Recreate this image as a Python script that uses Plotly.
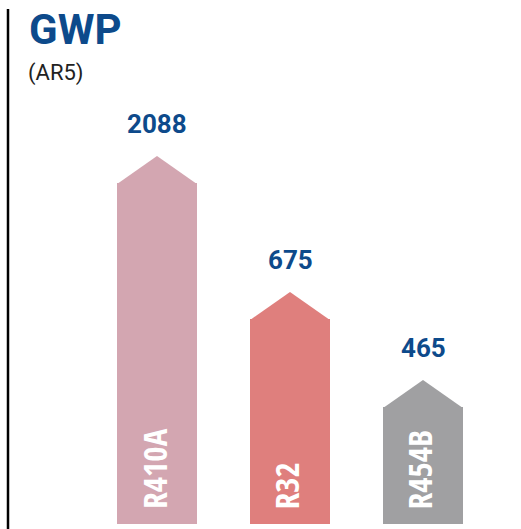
import plotly.graph_objects as go

refrigerants = ["R410A", "R32", "R454B"]
gwp_values = [2088, 675, 465]
bar_heights = [341, 205, 117]   # displayed body heights (picture units)
cap_height = 27
colors = ["#d3a6b1", "#df7f7d", "#a0a0a2"]

W, H = 521, 529
xs = list(range(len(refrigerants)))
bw = 0.6

fig = go.Figure()
fig.add_trace(go.Bar(x=xs, y=bar_heights, width=bw, marker=dict(color=colors, line=dict(width=0)),
                     hoverinfo="skip", showlegend=False))
for i, (h, c) in enumerate(zip(bar_heights, colors)):
    fig.add_trace(go.Scatter(x=[i - bw / 2, i, i + bw / 2, i - bw / 2],
                             y=[h - 1, h + cap_height, h - 1, h - 1],
                             mode="lines", fill="toself", fillcolor=c,
                             line=dict(width=0, color=c), hoverinfo="skip", showlegend=False))

annotations = []
for i, (v, h) in enumerate(zip(gwp_values, bar_heights)):
    annotations.append(dict(x=i, y=h + cap_height + 32, xref="x", yref="y", text=f"{v}",
                            showarrow=False, xanchor="center", yanchor="middle",
                            font=dict(family="Roboto", size=26, color="#0d4a8b", weight="bold")))
    annotations.append(dict(x=i - 0.025, y=13, xref="x", yref="y", text=refrigerants[i],
                            textangle=-90, showarrow=False, xanchor="center", yanchor="bottom",
                            font=dict(family="Open Sans Condensed, DejaVu Sans Condensed, Roboto",
                                      size=33, color="white", weight="bold")))

annotations.append(dict(x=27 / W, y=1 - 30 / H, xref="paper", yref="paper", text="GWP",
                        showarrow=False, xanchor="left", yanchor="middle",
                        font=dict(family="Roboto", size=42, color="#0d4a8b", weight="bold")))
annotations.append(dict(x=26 / W, y=1 - 73 / H, xref="paper", yref="paper", text="(AR5)",
                        showarrow=False, xanchor="left", yanchor="middle",
                        font=dict(family="Roboto", size=22, color="#222222")))

x0 = -157 / 133
fig.update_layout(
    width=W, height=H, margin=dict(l=0, r=0, t=0, b=0),
    paper_bgcolor="white", plot_bgcolor="white",
    xaxis=dict(range=[x0, x0 + W / 133], visible=False, fixedrange=True),
    yaxis=dict(range=[-5, 524], visible=False, fixedrange=True),
    annotations=annotations,
    shapes=[dict(type="line", xref="paper", yref="paper", x0=8 / W, x1=8 / W, y0=0, y1=1 - 9 / H,
                 line=dict(color="black", width=2.5))],
    bargap=0,
)

fig.write_html("out.html", config={"displayModeBar": False},
               post_script="document.body.style.margin='0';")
